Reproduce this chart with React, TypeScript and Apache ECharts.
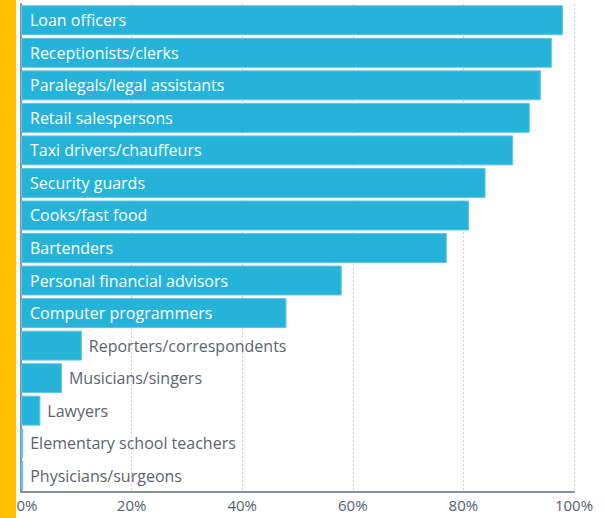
import React, { useEffect, useRef } from "react";
import * as echarts from "echarts";

const categories = [
  "Loan officers",
  "Receptionists/clerks",
  "Paralegals/legal assistants",
  "Retail salespersons",
  "Taxi drivers/chauffeurs",
  "Security guards",
  "Cooks/fast food",
  "Bartenders",
  "Personal financial advisors",
  "Computer programmers",
  "Reporters/correspondents",
  "Musicians/singers",
  "Lawyers",
  "Elementary school teachers",
  "Physicians/surgeons",
];
const values = [98, 96, 94, 92, 89, 84, 81, 77, 58, 48, 11, 7.4, 3.5, 0.4, 0.4];
const tickValues = [0, 20, 40, 60, 80, 100];

export default function App() {
  const ref = useRef<HTMLDivElement>(null);
  useEffect(() => {
    document.body.style.margin = "0";
    const chart = echarts.init(ref.current!, null, { renderer: "svg" });
    const font = "Open Sans";
    const data = values.map((v, i) => {
      const inside = v > 30;
      return {
        value: v,
        name: categories[i],
        label: inside
          ? { show: true, position: "insideLeft", distance: 9, color: "#ffffff" }
          : { show: true, position: "right", distance: 7, color: "#5a6470" },
      };
    });
    chart.setOption({
      animation: false,
      grid: { left: 21, right: 31, top: 4, bottom: 26, containLabel: false },
      graphic: [
        {
          type: "rect",
          left: 0,
          top: 0,
          shape: { x: 0, y: 0, width: 16, height: 518 },
          style: { fill: "#ffc000" },
          z: 100,
        },
      ],
      xAxis: {
        type: "value",
        min: tickValues[0],
        max: tickValues[tickValues.length - 1],
        interval: 20,
        axisLine: { show: true, lineStyle: { color: "#8a9099", width: 2 } },
        axisTick: { show: false },
        axisLabel: {
          margin: 6,
          fontFamily: font,
          fontSize: 15,
          lineHeight: 14,
          color: "#4f6275",
          formatter: (v: number) => (v === 0 ? "{z|" + v + "%}" : v + "%"),
          rich: { z: { fontFamily: font, fontSize: 15, lineHeight: 14, color: "#4f6275", padding: [0, 0, 0, 12] } },
        },
        splitLine: { show: true, lineStyle: { color: "#cfd3d8", type: [2, 2], width: 1 } },
      },
      yAxis: {
        type: "category",
        data: categories,
        inverse: true,
        axisLine: { show: true, lineStyle: { color: "#8a9099", width: 2 } },
        axisTick: { show: false },
        axisLabel: { show: false },
        splitLine: { show: false },
      },
      series: [
        {
          type: "bar",
          data,
          barCategoryGap: "8%",
          itemStyle: { color: "#26b3da", borderColor: "#5ec6e6", borderWidth: 1 },
          label: { fontFamily: font, fontSize: 16, formatter: "{b}" },
          silent: true,
        },
      ],
    });
    return () => chart.dispose();
  }, []);
  return <div ref={ref} style={{ position: "absolute", left: 0, top: 0, width: 605, height: 518 }} />;
}
